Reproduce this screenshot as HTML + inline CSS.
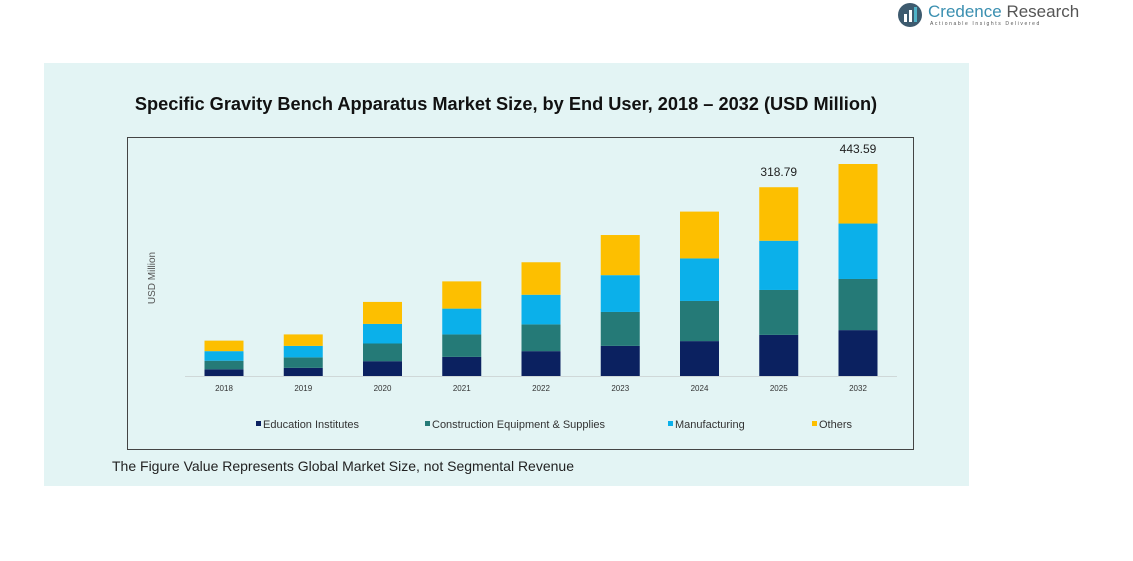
<!DOCTYPE html>
<html><head><meta charset="utf-8"><style>
body{margin:0;width:1133px;height:561px;background:#fff;font-family:"Liberation Sans",sans-serif;position:relative;overflow:hidden}
</style></head><body>
<div style="position:absolute;left:897px;top:2px;width:230px;height:28px;white-space:nowrap">
<svg width="28" height="26" style="position:absolute;left:0;top:0"><circle cx="13" cy="13" r="12" fill="#3d5a6e"/><rect x="7" y="12" width="3" height="8" fill="#fff"/><rect x="12" y="8" width="3" height="12" fill="#fff"/><rect x="17" y="5" width="3" height="15" fill="#4fb3c8"/></svg>
<div style="position:absolute;left:31px;top:0;font-size:17px;color:#3a8fb0;white-space:nowrap">Credence <span style="color:#555">Research</span></div>
<div style="position:absolute;left:33px;top:19px;font-size:5px;letter-spacing:1.6px;color:#555;white-space:nowrap">Actionable Insights Delivered</div>
</div>
<div style="position:absolute;left:44px;top:63px;width:925px;height:423px;background:#e3f4f4"></div>
<svg id="c" width="1133" height="561" style="position:absolute;left:0;top:0">
<text x="506" y="110" text-anchor="middle" font-size="18.2" font-weight="bold" fill="#111">Specific Gravity Bench Apparatus Market Size, by End User, 2018 – 2032 (USD Million)</text>
<rect x="127.5" y="137.5" width="786" height="312" fill="none" stroke="#444" stroke-width="1"/>
<text x="155" y="278" transform="rotate(-90 155 278)" text-anchor="middle" font-size="10" fill="#555">USD Million</text>
<line x1="185" y1="376.5" x2="897" y2="376.5" stroke="#cfd8d8"/>
<text x="112" y="471" font-size="14" fill="#222">The Figure Value Represents Global Market Size, not Segmental Revenue</text>
</svg>
<script>
const years=["2018","2019","2020","2021","2022","2023","2024","2025","2032"];
const education=[14,17,31,40,52,63,73,86,96];
const construction=[18,22,37,47,56,71,84,94,107];
const manufacturing=[20,24,41,54,62,77,89,103,116];
const others=[22,24,46,57,68,84,98,112,124.59];
const labels={"2025":"318.79","2032":"443.59"};
const seriesNames=["Education Institutes","Construction Equipment & Supplies","Manufacturing","Others"];
const colors=["#0b2160","#257a77","#0bb0ea","#fdbf00"];
const svg=document.getElementById('c');const NS="http://www.w3.org/2000/svg";
const base=376, pxPerUnit=212/443.59;
const xc=i=>224+i*79.25, y=v=>base-v*pxPerUnit;
const series=[education,construction,manufacturing,others];
years.forEach((yr,i)=>{
  let acc=0;
  series.forEach((s,k)=>{
    const r=document.createElementNS(NS,'rect');
    r.setAttribute('x',xc(i)-19.5);r.setAttribute('width',39);
    r.setAttribute('y',y(acc+s[i]));r.setAttribute('height',s[i]*pxPerUnit);
    r.setAttribute('fill',colors[k]);
    
    
    svg.appendChild(r);acc+=s[i];
  });
  const t=document.createElementNS(NS,'text');
  t.setAttribute('x',xc(i));t.setAttribute('y',391);t.setAttribute('text-anchor','middle');
  t.setAttribute('font-size','8');t.setAttribute('fill','#333');t.textContent=yr;
  
  
  svg.appendChild(t);
  if(labels[yr]){
    const l=document.createElementNS(NS,'text');
    l.setAttribute('x',xc(i));l.setAttribute('y',y(acc)-11);l.setAttribute('text-anchor','middle');
    l.setAttribute('font-size','12');l.setAttribute('fill','#222');l.textContent=labels[yr];
    
    
    svg.appendChild(l);
  }
});
const lx=[256,425,668,812];
seriesNames.forEach((n,k)=>{
  const r=document.createElementNS(NS,'rect');
  r.setAttribute('x',lx[k]);r.setAttribute('y',421);r.setAttribute('width',5);r.setAttribute('height',5);r.setAttribute('fill',colors[k]);
  
  
  svg.appendChild(r);
  const t=document.createElementNS(NS,'text');
  t.setAttribute('x',lx[k]+7);t.setAttribute('y',428);t.setAttribute('font-size','11');t.setAttribute('fill','#333');t.textContent=n;
  
  
  svg.appendChild(t);
});
</script>
</body></html>
